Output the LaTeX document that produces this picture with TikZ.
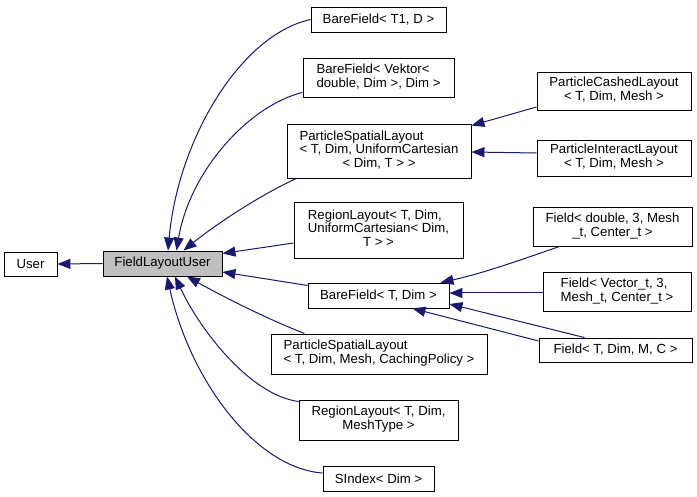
\documentclass[tikz,border=0pt]{standalone}
\usepackage{fontspec}
\setmainfont{Liberation Sans}
\usetikzlibrary{arrows.meta}
\definecolor{edgeblue}{RGB}{25,25,112}
\definecolor{boxgray}{RGB}{191,191,191}
\newcommand{\lbl}[2]{\begin{tabular}{@{}l@{}}#1\\\multicolumn{1}{@{}c@{}}{#2}\end{tabular}}
\begin{document}
\begin{tikzpicture}[x=1pt,y=-1pt,
  box/.style={draw=black, line width=0.9pt, fill=white, inner sep=0pt, align=center,
    font=\fontsize{13.2}{13.5}\selectfont},
  edge/.style={draw=edgeblue, line width=1pt, -{Triangle[length=13pt,width=10pt]}, fill=none}]
\useasboundingbox[fill=white] (0,0) rectangle (697,497);
% nodes
\node[box, minimum width=53pt, minimum height=24pt] (user) at (30.5,264) {User};
\node[box, fill=boxgray, minimum width=119pt, minimum height=25pt] (flu) at (162.5,263.5) {FieldLayoutUser};
\node[box, minimum width=135pt, minimum height=25pt] (bf1) at (378.5,19.5) {BareField< T1, D >};
\node[box, minimum width=151pt, minimum height=39pt] (bfv) at (378.5,77.5) {\lbl{BareField< Vektor<}{double, Dim >, Dim >}};
\node[box, minimum width=184pt, minimum height=54pt] (pslu) at (379,151) {\lbl{ParticleSpatialLayout\\< T, Dim, UniformCartesian}{< Dim, T > >}};
\node[box, minimum width=169pt, minimum height=56pt] (rlu) at (378.5,230) {\lbl{RegionLayout< T, Dim,\\UniformCartesian< Dim,}{T > >}};
\node[box, minimum width=141pt, minimum height=25pt] (bftd) at (378.5,295.5) {BareField< T, Dim >};
\node[box, minimum width=216pt, minimum height=40pt] (pslm) at (379,354) {\lbl{ParticleSpatialLayout}{< T, Dim, Mesh, CachingPolicy >}};
\node[box, minimum width=159pt, minimum height=40pt] (rlm) at (378.5,420) {\lbl{RegionLayout< T, Dim,}{MeshType >}};
\node[box, minimum width=111pt, minimum height=25pt] (sidx) at (378.5,478.5) {SIndex< Dim >};
\node[box, minimum width=154pt, minimum height=38pt] (pcl) at (614,91) {\lbl{ParticleCashedLayout}{< T, Dim, Mesh >}};
\node[box, minimum width=154pt, minimum height=36pt] (pil) at (614,158) {\lbl{ParticleInteractLayout}{< T, Dim, Mesh >}};
\node[box, minimum width=159pt, minimum height=39pt] (fd) at (612.5,226.5) {\lbl{Field< double, 3, Mesh}{\_t, Center\_t >}};
\node[box, minimum width=148pt, minimum height=39pt] (fv) at (617,291.5) {\lbl{Field< Vector\_t, 3,}{Mesh\_t, Center\_t >}};
\node[box, minimum width=153pt, minimum height=24pt] (ftd) at (615.5,350) {Field< T, Dim, M, C >};
% edges
\draw[edge] (flu.west) -- (user.east);
\draw[edge] (bf1.west) .. controls (240,35) and (178,140) .. ([xshift=5.5pt]flu.north);
\draw[edge] ([yshift=-15pt]bfv.west) .. controls (250,105) and (190,170) .. ([xshift=14pt]flu.north);
\draw[edge] ([xshift=10pt]pslu.south west) .. controls (260,195) and (215,225) .. ([xshift=21pt]flu.north);
\draw[edge] ([yshift=-13pt]rlu.west) -- ([yshift=10pt]flu.east);
\draw[edge] ([yshift=10pt]bftd.west) -- ([yshift=-8.5pt]flu.east);
\draw[edge] ([xshift=34pt]pslm.north west) .. controls (265,318) and (220,295) .. ([xshift=24.5pt]flu.south);
\draw[edge] ([yshift=-2pt]rlm.north west) .. controls (250,395) and (200,330) .. ([xshift=12.5pt]flu.south);
\draw[edge] ([yshift=5.5pt]sidx.west) .. controls (255,468) and (190,380) .. ([xshift=4.5pt]flu.south);
\draw[edge] ([yshift=-16pt]pcl.west) -- ([yshift=-2pt]pslu.north east);
\draw[edge] ([yshift=5pt]pil.west) -- ([yshift=-1pt]pslu.east);
\draw[edge] ([xshift=27pt]fd.south west) .. controls (515,262) and (480,274) .. ([xshift=-9pt]bftd.north east);
\draw[edge] ([yshift=-1.5pt]fv.west) -- ([yshift=2.5pt]bftd.east);
\draw[edge] ([xshift=46pt]ftd.north west) -- ([yshift=-8.5pt]bftd.east);
\draw[edge] ([yshift=9pt]ftd.west) -- ([xshift=-37pt]bftd.south east);
\end{tikzpicture}
\end{document}
